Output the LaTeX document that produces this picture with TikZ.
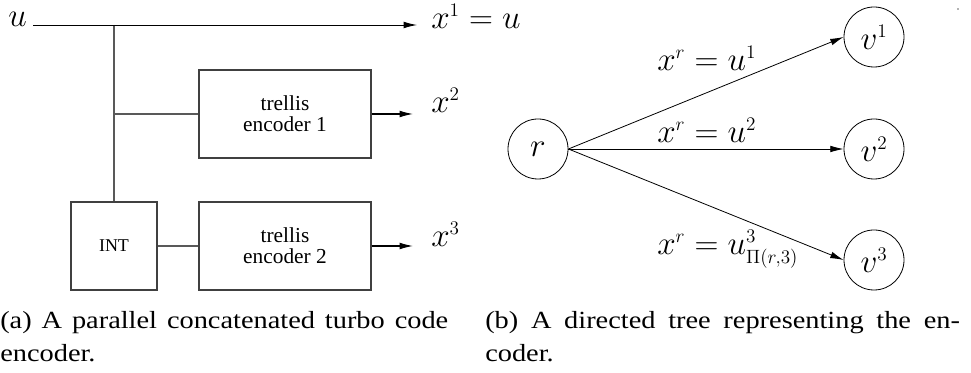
\documentclass[tikz,border=0pt]{standalone}
\usepackage[no-math]{fontspec}
\newfontfamily\tms{Liberation Serif}
\newfontfamily\capfont[FakeStretch=1.15]{Liberation Serif}
\DeclareMathSizes{23.5}{23.5}{15.5}{11}
\usetikzlibrary{arrows.meta}
\begin{document}
\begin{tikzpicture}[x=0.75pt,y=-0.75pt,
  lgray/.style={draw=black!65, line width=0.8pt},
  arr/.style={-{Latex[length=10pt,width=5pt]}},
  encbox/.style={draw=black!75, line width=0.8pt, minimum width=129pt, minimum height=66pt,
    inner sep=0pt, align=center, font=\tms\fontsize{16}{16}\selectfont},
  intbox/.style={draw=black!75, line width=0.8pt, minimum width=64.5pt, minimum height=66pt,
    inner sep=0pt, font=\tms\fontsize{13.5}{16}\selectfont},
  mlab/.style={inner sep=0pt, font=\fontsize{23.5}{28}\selectfont},
  vnode/.style={draw, circle, line width=0.6pt, minimum size=45pt, inner sep=0pt, font=\fontsize{23.5}{28}\selectfont},
  capt/.style={inner sep=0pt, anchor=base west, font=\capfont\fontsize{18.5}{24}\selectfont}
]
\useasboundingbox (0,0) rectangle (971,373);

% ---- (a) turbo encoder ----
\node[mlab, anchor=base west] (u) at (8,27) {$u$};
\coordinate (uin) at (33,25);
\coordinate (j1) at (114,25);
\coordinate (j2) at (114,114);
\coordinate (x1tip) at (417,25);
\coordinate (x2tip) at (413,114);
\coordinate (x3tip) at (413,246);
\node[mlab, anchor=base west] (x1) at (431,28.5) {$x^1=u$};
\node[mlab, anchor=base west] (x2) at (431,113) {$x^2$};
\node[mlab, anchor=base west] (x3) at (431,247) {$x^3$};

\node[encbox] (enc1) at (285,114) {trellis\\encoder 1};
\node[intbox] (int) at (114,246) {INT};
\node[encbox] (enc2) at (285,246) {trellis\\encoder 2};

\draw[lgray] (j1) -- (int.north);
\draw[lgray] (j2) -- (enc1.west);
\draw[lgray] (int.east) -- (enc2.west);
\draw[arr, line width=0.7pt] (uin) -- (x1tip);
\draw[lgray, arr, draw=black] (enc1.east) -- (x2tip);
\draw[lgray, arr, draw=black] (enc2.east) -- (x3tip);

% ---- (b) directed tree ----
\node[vnode] (r) at (538,149) {$r$};
\node[vnode] (v1) at (874,37) {$v^1$};
\node[vnode] (v2) at (874,149) {$v^2$};
\node[vnode] (v3) at (874,260) {$v^3$};
\draw[arr, line width=0.6pt] (r.east) -- (v1.west);
\draw[arr, line width=0.6pt] (r.east) -- (v2.west);
\draw[arr, line width=0.6pt] (r.east) -- (v3.west);
\node[mlab, anchor=base west] (l1) at (657,71) {$x^r=u^1$};
\node[mlab, anchor=base west] (l2) at (657,143) {$x^r=u^2$};
\node[mlab, anchor=base west] (l3) at (657,255) {$x^r=u^3_{\Pi(r,3)}$};
\fill[black!60] (958,9) circle (0.6pt);

% ---- captions ----
\node[capt] (capa1) at (0,329) {\makebox[336pt][s]{(a) A parallel concatenated turbo code}};
\node[capt] (capa2) at (0,362) {encoder.};
\node[capt] (capb1) at (485,329) {\makebox[356pt][s]{(b) A directed tree representing the en-}};
\node[capt] (capb2) at (485,362) {coder.};
\end{tikzpicture}
\end{document}
